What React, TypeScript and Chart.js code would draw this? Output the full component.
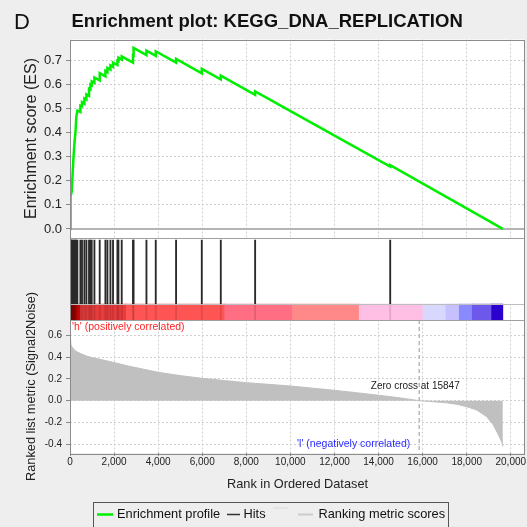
import { useEffect, useRef } from 'react';
import { Chart, registerables } from 'chart.js';

Chart.register(...registerables);

const panelLetter = 'D';
const plotTitle = 'Enrichment plot: KEGG_DNA_REPLICATION';
const esAxisTitle = 'Enrichment score (ES)';
const metricAxisTitle = 'Ranked list metric (Signal2Noise)';
const rankAxisTitle = 'Rank in Ordered Dataset';
const posLabel = "'h' (positively correlated)";
const negLabel = "'l' (negatively correlated)";
const legendLabels = ['Enrichment profile', 'Hits', 'Ranking metric scores'];

const rankMax = 20645;
const zeroCross = 15847;
const rankTicks = [0, 2000, 4000, 6000, 8000, 10000, 12000, 14000, 16000, 18000, 20000];

// running enrichment score (rank, score)
const esRanks = [
  0, 6, 22, 45, 77, 118, 160, 205, 250, 285, 335,
  472, 472, 545, 545, 654, 654, 745, 745, 863, 863, 926, 926, 985, 985,
  1108, 1108, 1348, 1348, 1607, 1607, 1698, 1698, 1834, 1834, 1952, 1952,
  2152, 2152, 2198, 2198, 2347, 2347, 2858, 2858, 2885, 2885, 3469, 3469,
  3891, 3891, 4813, 4813, 5980, 5980, 6842, 6842, 8400, 8400, 14529, 14529, 19640,
];
const esValues = [
  0, 0.05, 0.1, 0.135, 0.155, 0.23, 0.3, 0.36, 0.405, 0.465, 0.492,
  0.486, 0.513, 0.51, 0.527, 0.521, 0.543, 0.538, 0.56, 0.554, 0.583, 0.58, 0.6, 0.597, 0.614,
  0.608, 0.63, 0.618, 0.648, 0.635, 0.657, 0.652, 0.67, 0.663, 0.68, 0.674, 0.692,
  0.682, 0.7, 0.698, 0.712, 0.704, 0.718, 0.692, 0.722, 0.721, 0.753, 0.723, 0.742,
  0.72, 0.739, 0.692, 0.707, 0.647, 0.666, 0.622, 0.638, 0.558, 0.572, 0.259, 0.265, 0,
];

// positions of gene-set members in the ranked list
const hitRanks = [
  6, 22, 45, 77, 118, 160, 205, 250, 285, 335, 472, 545, 654, 745, 863, 926, 985,
  1108, 1348, 1607, 1698, 1834, 1952, 2152, 2198, 2347, 2858, 2885, 3469, 3891,
  4813, 5980, 6842, 8400, 14529,
];

// ranking metric (Signal2Noise) along the list
const metricRanks = [
  0, 30, 100, 200, 300, 500, 750, 1000, 1350, 2000, 2600, 3300, 4000, 5000, 6000,
  7000, 8000, 9000, 10000, 11000, 12000, 13000, 14000, 15000, 15847, 16500, 17100,
  17600, 18000, 18450, 18900, 19200, 19430, 19590, 19640,
];
const metricValues = [
  0.56, 0.52, 0.49, 0.465, 0.45, 0.43, 0.41, 0.395, 0.38, 0.35, 0.32, 0.29, 0.26, 0.23, 0.205,
  0.185, 0.165, 0.15, 0.135, 0.115, 0.095, 0.073, 0.05, 0.025, 0, -0.01, -0.02,
  -0.035, -0.055, -0.085, -0.146, -0.22, -0.31, -0.38, -0.42,
];

// heat strip along the ranked list
const colorBarEdges = [0, 259, 471, 2559, 7024, 10081, 13123, 16015, 17057, 17663, 18253, 19132, 19640];
const colorBarColors = [
  '#a80000', '#cc0a0a', '#e83c3c', '#ff5454', '#ff6e82', '#ff8888',
  '#ffbfe4', '#d8d8ff', '#c6c0ff', '#8a8aff', '#6c58ea', '#2c00cc',
];

// vertical layout of the hits strip (0 = bottom, 1 = top)
const stripTop = 0.194;
const hitTop = 0.97;

const FONT = 'Arial, "Liberation Sans", sans-serif';
const GREEN = '#00ee00';
const GRID = '#d0d0d0';

const fmt1 = (v: number) => (Math.abs(v) < 1e-9 ? 0 : v).toFixed(1);

function hline(ctx: CanvasRenderingContext2D, x1: number, x2: number, y: number) {
  ctx.beginPath();
  ctx.moveTo(x1, y);
  ctx.lineTo(x2, y);
  ctx.stroke();
}

function vText(ctx: CanvasRenderingContext2D, text: string, x: number, y: number, font: string, color: string) {
  ctx.save();
  ctx.translate(x, y);
  ctx.rotate(-Math.PI / 2);
  ctx.font = font;
  ctx.fillStyle = color;
  ctx.textAlign = 'center';
  ctx.textBaseline = 'middle';
  ctx.fillText(text, 0, 0);
  ctx.restore();
}

const gseaDecor = {
  id: 'gseaDecor',
  beforeDraw(chart: any) {
    const { ctx, chartArea: a } = chart;
    ctx.save();
    ctx.fillStyle = '#eeeeee';
    ctx.fillRect(0, 0, chart.width, chart.height);
    ctx.fillStyle = '#ffffff';
    ctx.fillRect(a.left, a.top, a.right - a.left, a.bottom - a.top);
    ctx.restore();
  },
  beforeDatasetsDraw(chart: any) {
    const { ctx, chartArea: a, scales } = chart;
    const hs = scales.yHits;
    const es = scales.yES;
    const ms = scales.yMetric;
    const xs = scales.x;
    ctx.save();
    // hits strip carries no grid
    ctx.fillStyle = '#ffffff';
    ctx.fillRect(a.left, hs.top, a.right - a.left, hs.getPixelForValue(stripTop) - hs.top);
    // ES baseline
    ctx.strokeStyle = '#b4b4b4';
    ctx.lineWidth = 2;
    hline(ctx, a.left, a.right, es.getPixelForValue(0));
    // zero-cross marker
    const zx = xs.getPixelForValue(zeroCross);
    ctx.strokeStyle = '#b8b8b8';
    ctx.lineWidth = 1.5;
    ctx.setLineDash([4, 3]);
    ctx.beginPath();
    ctx.moveTo(zx, ms.top);
    ctx.lineTo(zx, ms.bottom);
    ctx.stroke();
    ctx.restore();
  },
  afterDatasetsDraw(chart: any) {
    const { ctx, chartArea: a, scales } = chart;
    const hs = scales.yHits;
    const es = scales.yES;
    ctx.save();
    ctx.lineWidth = 1;
    ctx.strokeStyle = '#bdbdbd';
    hline(ctx, a.left, a.right, Math.round(hs.getPixelForValue(stripTop)) + 0.5);
    ctx.strokeStyle = '#a0a0a0';
    hline(ctx, a.left, a.right, Math.round(hs.bottom) + 0.5);
    hline(ctx, a.left, a.right, Math.round(es.bottom) + 0.5);
    ctx.strokeStyle = '#8c8c8c';
    ctx.strokeRect(Math.round(a.left) + 0.5, Math.round(a.top) + 0.5, Math.round(a.right - a.left) - 1, Math.round(a.bottom - a.top));
    ctx.restore();
  },
  afterDraw(chart: any) {
    const { ctx, chartArea: a, scales } = chart;
    const es = scales.yES;
    const ms = scales.yMetric;
    const xs = scales.x;
    ctx.save();
    ctx.textBaseline = 'alphabetic';
    ctx.textAlign = 'left';
    ctx.fillStyle = '#111';
    ctx.font = `22px ${FONT}`;
    ctx.fillText(panelLetter, 14, 28.5);
    ctx.font = `bold 18.5px ${FONT}`;
    ctx.fillText(plotTitle, 71.5, 26.5);

    vText(ctx, esAxisTitle, 32, (es.top + es.bottom) / 2, `16px ${FONT}`, '#222');
    vText(ctx, metricAxisTitle, 31.5, (ms.top + ms.bottom) / 2, `12.8px ${FONT}`, '#222');

    ctx.textAlign = 'center';
    ctx.textBaseline = 'middle';
    ctx.font = `12.75px ${FONT}`;
    ctx.fillStyle = '#222';
    ctx.fillText(rankAxisTitle, (a.left + a.right) / 2, 484);

    const zx = xs.getPixelForValue(zeroCross);
    ctx.font = `10px ${FONT}`;
    ctx.fillStyle = '#222';
    ctx.fillText(`Zero cross at ${zeroCross}`, zx - 4, ms.getPixelForValue(0) - 14);

    ctx.textAlign = 'left';
    ctx.font = `10.5px ${FONT}`;
    ctx.fillStyle = '#ff2424';
    ctx.fillText(posLabel, a.left + 2, ms.top + 7.5);
    ctx.textAlign = 'right';
    ctx.fillStyle = '#2c2cff';
    ctx.fillText(negLabel, zx - 9, ms.bottom - 8.5);

    // legend
    ctx.strokeStyle = '#555';
    ctx.lineWidth = 1;
    ctx.strokeRect(93.5, 502.5, 355, 40);
    const ly = 514.5;
    ctx.lineWidth = 2.5;
    ctx.strokeStyle = GREEN;
    hline(ctx, 97, 113, ly);
    ctx.lineWidth = 1.5;
    ctx.strokeStyle = '#333';
    hline(ctx, 227, 240, ly);
    ctx.strokeStyle = '#e0e0e0';
    hline(ctx, 273, 288, 508);
    ctx.lineWidth = 2;
    ctx.strokeStyle = '#cccccc';
    hline(ctx, 298, 313, ly);
    ctx.textAlign = 'left';
    ctx.font = `12.8px ${FONT}`;
    ctx.fillStyle = '#111';
    ctx.fillText(legendLabels[0], 117, ly);
    ctx.fillText(legendLabels[1], 243.5, ly);
    ctx.fillText(legendLabels[2], 318.5, ly);
    ctx.restore();
  },
};

export default function App() {
  const ref = useRef<HTMLCanvasElement>(null);

  useEffect(() => {
    const canvas = ref.current;
    if (!canvas) return;
    const stripMid = stripTop / 2;
    const chart = new Chart(canvas, {
      type: 'line',
      data: {
        datasets: [
          {
            label: legendLabels[0],
            data: esRanks.map((r, i) => ({ x: r, y: esValues[i] })),
            xAxisID: 'x',
            yAxisID: 'yES',
            borderColor: GREEN,
            borderWidth: 2.5,
            pointRadius: 0,
            tension: 0,
            fill: false,
            order: 0,
          },
          {
            type: 'bar',
            label: legendLabels[1],
            data: hitRanks.map((r) => ({ x: r, y: [stripTop, hitTop] })),
            xAxisID: 'x',
            yAxisID: 'yHits',
            backgroundColor: '#2a2a2a',
            borderWidth: 0,
            barThickness: 1.2,
            grouped: false,
            order: 1,
          },
          {
            type: 'bar',
            label: 'hit marks on strip',
            data: hitRanks.map((r) => ({ x: r, y: [0, stripTop] })),
            xAxisID: 'x',
            yAxisID: 'yHits',
            backgroundColor: 'rgba(0,0,0,0.12)',
            borderWidth: 0,
            barThickness: 1.2,
            grouped: false,
            order: 2,
          },
          {
            type: 'bar',
            label: 'strip',
            indexAxis: 'y',
            data: colorBarColors.map((_, i) => ({ x: [colorBarEdges[i], colorBarEdges[i + 1]], y: stripMid })),
            xAxisID: 'x',
            yAxisID: 'yHits',
            backgroundColor: colorBarColors,
            borderWidth: 0,
            barThickness: 16,
            grouped: false,
            order: 3,
          },
          {
            label: legendLabels[2],
            data: metricRanks.map((r, i) => ({ x: r, y: metricValues[i] })),
            xAxisID: 'x',
            yAxisID: 'yMetric',
            borderColor: '#c0c0c0',
            backgroundColor: '#c0c0c0',
            borderWidth: 1,
            pointRadius: 0,
            tension: 0,
            fill: 'origin',
            order: 4,
          },
        ] as any,
      },
      options: {
        responsive: false,
        animation: false,
        devicePixelRatio: 1,
        events: [],
        layout: { padding: { left: 0, top: 39.5, right: 2, bottom: 0 } },
        plugins: { legend: { display: false }, tooltip: { enabled: false }, title: { display: false } },
        scales: {
          x: {
            type: 'linear',
            position: 'bottom',
            min: 0,
            max: rankMax,
            offset: false,
            afterBuildTicks: (s: any) => {
              s.ticks = rankTicks.map((v) => ({ value: v }));
            },
            afterFit: (s: any) => {
              s.height = 74;
              s.paddingLeft = 0;
              s.paddingRight = 0;
            },
            ticks: {
              autoSkip: false,
              maxRotation: 0,
              padding: 0,
              color: '#222',
              font: { family: FONT, size: 10 },
              callback: (v: any) => Number(v).toLocaleString('en-US'),
            },
            grid: { offset: false, color: GRID, lineWidth: 1, tickLength: 3, tickColor: '#888' },
            border: { display: false, dash: [2, 2] },
          },
          yES: {
            type: 'linear',
            axis: 'y',
            position: 'left',
            stack: 'panels',
            stackWeight: 198,
            weight: 3,
            min: -0.0356,
            max: 0.788,
            afterFit: (s: any) => {
              s.width = 70;
              s.paddingTop = 0;
              s.paddingBottom = 0;
            },
            ticks: {
              stepSize: 0.1,
              maxTicksLimit: 40,
              autoSkip: false,
              includeBounds: false,
              padding: 4,
              color: '#222',
              font: { family: FONT, size: 13 },
              callback: (v: any) => fmt1(Number(v)),
            },
            grid: { color: GRID, tickLength: 4, tickColor: '#888' },
            border: { display: false, dash: [2, 2] },
          },
          yHits: {
            type: 'linear',
            axis: 'y',
            position: 'left',
            stack: 'panels',
            stackWeight: 82.5,
            weight: 2,
            min: 0,
            max: 1,
            offset: false,
            afterFit: (s: any) => {
              s.width = 70;
              s.paddingTop = 0;
              s.paddingBottom = 0;
            },
            ticks: { display: false },
            grid: { display: false, offset: false },
            border: { display: false },
          },
          yMetric: {
            type: 'linear',
            axis: 'y',
            position: 'left',
            stack: 'panels',
            stackWeight: 133,
            weight: 1,
            min: -0.48,
            max: 0.74,
            afterFit: (s: any) => {
              s.width = 70;
              s.paddingTop = 0;
              s.paddingBottom = 0;
            },
            ticks: {
              stepSize: 0.2,
              maxTicksLimit: 40,
              autoSkip: false,
              includeBounds: false,
              padding: 4,
              color: '#222',
              font: { family: FONT, size: 10 },
              callback: (v: any) => fmt1(Number(v)),
            },
            grid: { color: GRID, tickLength: 4, tickColor: '#888' },
            border: { display: false, dash: [2, 2] },
          },
        } as any,
      },
      plugins: [gseaDecor],
    });
    return () => chart.destroy();
  }, []);

  return (
    <div style={{ position: 'fixed', left: 0, top: 0, width: 527, height: 527, background: '#eeeeee' }}>
      <canvas ref={ref} width={527} height={527} style={{ display: 'block', width: 527, height: 527 }} />
    </div>
  );
}
